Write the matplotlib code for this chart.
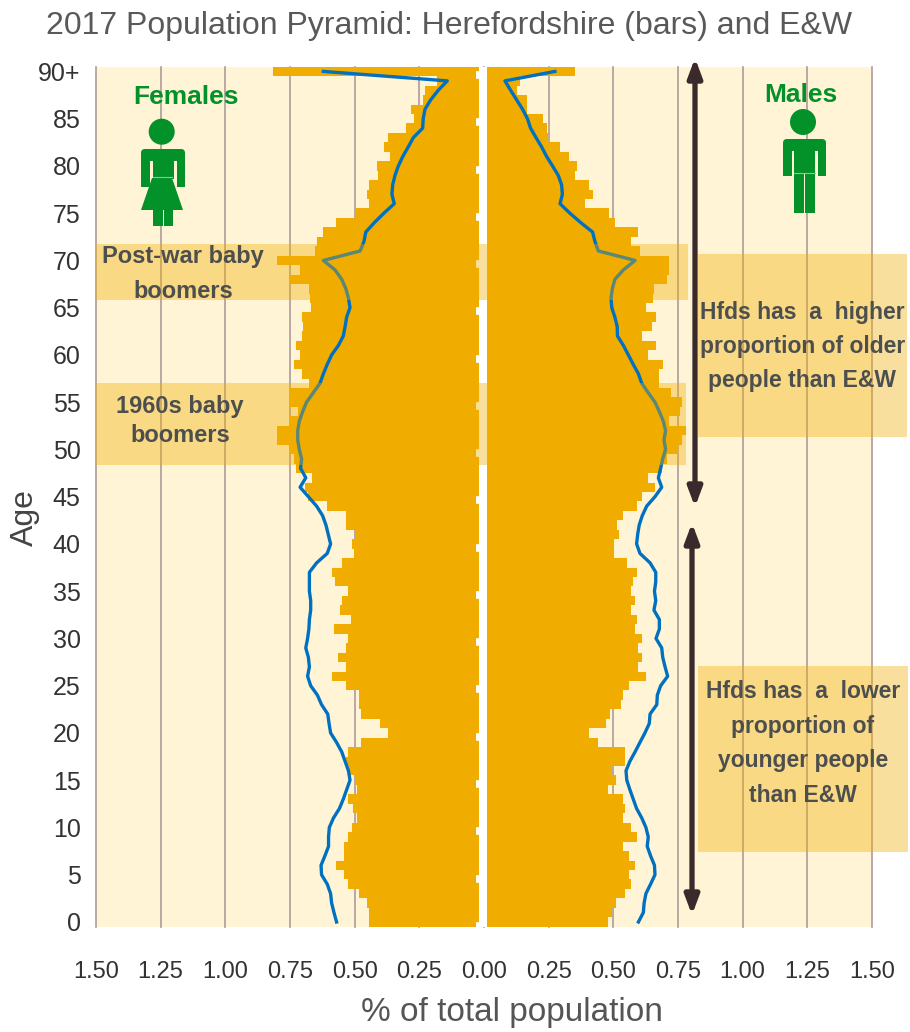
import matplotlib
matplotlib.use('Agg')
import matplotlib.pyplot as plt
import numpy as np
from matplotlib.patches import Circle, Polygon, Rectangle, FancyBboxPatch

# values, age 90+ first and going down to 0
ages = np.arange(90, -1, -1)

female_hfds = [.814, .183, .228, .235, .282, .27, .30, .372, .387, .363, .415, .408, .446, .454, .446,
               .499, .571, .624, .646, .653, .802, .711, .75, .677, .673, .669, .705, .698, .705, .727,
               .711, .733, .705, .675, .754, .754, .718, .754, .802, .802, .754, .733, .727, .666, .692,
               .679, .608, .535, .535, .499, .512, .503, .55, .586, .576, .527, .55, .557, .513, .579,
               .527, .535, .563, .534, .586, .534, .482, .482, .474, .402, .372, .474, .527, .534, .521,
               .497, .49, .527, .505, .49, .512, .527, .541, .541, .571, .541, .527, .482, .452, .446, .446]

male_hfds = [.352, .139, .129, .168, .168, .227, .242, .249, .294, .33, .361, .353, .405, .42, .39,
             .485, .508, .597, .567, .603, .716, .714, .709, .657, .655, .626, .664, .648, .612, .664,
             .635, .693, .678, .678, .722, .767, .758, .715, .781, .767, .745, .706, .69, .635, .661,
             .612, .59, .539, .515, .523, .503, .503, .554, .59, .575, .567, .584, .567, .59, .584,
             .612, .597, .612, .597, .626, .561, .539, .531, .487, .472, .405, .442, .545, .545, .494,
             .509, .479, .539, .545, .539, .567, .59, .539, .561, .582, .561, .567, .545, .509, .494, .479]

female_ew = [.621, .142, .177, .206, .228, .235, .237, .273, .293, .314, .331, .344, .353, .356, .347,
             .387, .424, .457, .464, .479, .621, .576, .55, .534, .524, .518, .531, .537, .544, .563,
             .589, .606, .621, .634, .66, .686, .701, .714, .72, .72, .714, .705, .709, .689, .711,
             .679, .647, .624, .611, .602, .593, .606, .647, .675, .675, .675, .67, .67, .675, .677,
             .682, .689, .679, .675, .682, .67, .644, .628, .604, .599, .593, .57, .55, .537, .524,
             .518, .531, .544, .559, .582, .598, .601, .601, .615, .63, .628, .606, .593, .589, .58, .57]

male_ew = [.274, .081, .103, .126, .149, .168, .18, .201, .223, .242, .265, .287, .30, .303, .294,
           .332, .374, .42, .429, .442, .584, .539, .506, .496, .491, .494, .506, .515, .516, .539,
           .558, .577, .597, .61, .635, .661, .678, .693, .702, .696, .702, .691, .683, .674, .687,
           .661, .629, .612, .60, .594, .59, .603, .642, .664, .664, .659, .664, .657, .678, .678,
           .665, .687, .691, .70, .71, .683, .67, .668, .642, .639, .622, .603, .584, .564, .549,
           .552, .564, .577, .59, .61, .626, .635, .631, .644, .659, .661, .644, .626, .619, .616, .597]

x_ticks = [-1.5, -1.25, -1.0, -0.75, -0.5, -0.25, 0, 0.25, 0.5, 0.75, 1.0, 1.25, 1.5]
y_ticks = list(range(0, 95, 5))
y_labels = [str(a) for a in range(0, 90, 5)] + ['90+']

orange = '#F0AD00'
blue = '#0070C0'
green = '#03912A'
grey_text = '#4D4F4F'
sans = ['Liberation Sans', 'DejaVu Sans']

fig = plt.figure(figsize=(9.1, 10.32), dpi=100)
W, H = 910, 1032
ax = fig.add_axes([96 / W, 1 - 926.7 / H, (872 - 96) / W, (926.7 - 66.7) / H])
ax.set_facecolor('#FFF5D6')
ax.set_xlim(-1.5, 1.5)
ax.set_ylim(-0.5, 90.5)

for t in x_ticks:
    ax.axvline(t, color='#AE9C9A', lw=1.2, zorder=1, clip_on=False)

ax.barh(ages, -np.array(female_hfds), height=1.0, color=orange, zorder=2)
ax.barh(ages, male_hfds, height=1.0, color=orange, zorder=2)
ax.axvspan(-0.0174, 0.0135, color='white', lw=0, zorder=3)
# little white ticks cut into the female side
ax.hlines(np.arange(0, 95, 5) - 0.4, -0.031, -0.017, color='white', lw=5.5, capstyle='butt', zorder=3)

ax.plot(-np.array(female_ew), ages, color=blue, lw=2.4, zorder=4, solid_joinstyle='round')
ax.plot(male_ew, ages, color=blue, lw=2.4, zorder=4, solid_joinstyle='round')

for s in ax.spines.values():
    s.set_visible(False)
ax.set_xticks(x_ticks)
ax.set_xticklabels(['%.2f' % abs(t) for t in x_ticks], fontsize=17, family=sans, color='#333333')
ax.set_yticks(y_ticks)
ax.set_yticklabels(y_labels, fontsize=18, family=sans, color='#333333')
ax.tick_params(axis='x', length=0, pad=25)
ax.tick_params(axis='y', length=0, pad=11)

# overlay in pixels for the bands, callouts, arrows and figures
ov = fig.add_axes([0, 0, 1, 1], zorder=5)
ov.set_xlim(0, W)
ov.set_ylim(H, 0)
ov.axis('off')
ov.patch.set_alpha(0)

a = 0.38
ov.add_patch(Rectangle((96, 244), 592, 56, color=orange, alpha=a, lw=0))
ov.add_patch(Rectangle((96, 383), 590, 82, color=orange, alpha=a, lw=0))
ov.add_patch(Polygon([(697, 218), (732, 254), (783, 254), (907, 254), (907, 437), (698, 437), (698, 254), (732, 254)],
                     color=orange, alpha=a, lw=0))
ov.add_patch(Polygon([(693, 627), (732, 666), (785, 666), (908, 666), (908, 852), (698, 852), (698, 666), (732, 666)],
                     color=orange, alpha=a, lw=0))

arrow_col = '#3A2A2C'
for x0, y0, y1 in [(695, 58, 507), (692, 523, 915)]:
    ov.annotate('', xy=(x0, y0), xytext=(x0, y1),
                arrowprops=dict(arrowstyle='<|-|>,head_length=0.8,head_width=0.3', color=arrow_col,
                                lw=3.8, shrinkA=0, shrinkB=0, mutation_scale=14))

# female figure
ov.add_patch(Circle((161.7, 131.7), 13, color=green, lw=0))
ov.add_patch(FancyBboxPatch((141, 149), 44, 12, boxstyle='round,pad=0,rounding_size=4', color=green, lw=0))
ov.add_patch(Rectangle((141, 153), 8.5, 34, color=green, lw=0))
ov.add_patch(Rectangle((176.5, 153), 8.5, 34, color=green, lw=0))
ov.add_patch(Rectangle((152.5, 149), 21, 30, color=green, lw=0))
ov.add_patch(Polygon([(152, 178), (172, 178), (183, 210), (141, 210)], color=green, lw=0))
ov.add_patch(Rectangle((153, 210), 9.5, 16, color=green, lw=0))
ov.add_patch(Rectangle((163.5, 210), 9.5, 16, color=green, lw=0))
ov.plot([153, 172], [177, 177], color='#8CC98A', lw=0.8)

# male figure
ov.add_patch(Circle((803, 122), 13, color=green, lw=0))
ov.add_patch(FancyBboxPatch((783, 139), 43, 12, boxstyle='round,pad=0,rounding_size=4', color=green, lw=0))
ov.add_patch(Rectangle((783, 143), 8.5, 33, color=green, lw=0))
ov.add_patch(Rectangle((817.5, 143), 8.5, 33, color=green, lw=0))
ov.add_patch(Rectangle((794, 139), 21, 35, color=green, lw=0))
ov.add_patch(Rectangle((794, 173), 10, 40, color=green, lw=0))
ov.add_patch(Rectangle((805, 173), 10, 40, color=green, lw=0))
ov.plot([794, 815], [172.5, 172.5], color='#8CC98A', lw=0.8)

bold = dict(family=sans, weight='bold', ha='center', va='center')
ov.text(186, 97, 'Females', fontsize=19, color=green, **bold)
ov.text(801, 95, 'Males', fontsize=19, color=green, **bold)
for x0, y0, s in [(183, 257, 'Post-war baby'), (183, 291, 'boomers'),
                  (180, 406, '1960s baby'), (180, 435, 'boomers')]:
    ov.text(x0, y0, s, fontsize=17, color=grey_text, **bold)
for x0, y0, s in [(802, 313, 'Hfds has  a  higher'), (803, 347, 'proportion of older'), (802, 381, 'people than E&W'),
                  (803, 692, 'Hfds has  a  lower'), (803, 727, 'proportion of'),
                  (803, 760, 'younger people'), (803, 795, 'than E&W')]:
    ov.text(x0, y0, s, fontsize=16.5, color=grey_text, **bold)

ov.text(449, 26, '2017 Population Pyramid: Herefordshire (bars) and E&W', fontsize=23,
        family=sans, color='#595959', ha='center', va='center')
ov.text(512, 1013, '% of total population', fontsize=24,
        family=sans, color='#555555', ha='center', va='center')
ov.text(25, 518, 'Age', fontsize=23, rotation=90,
        family=sans, color='#444444', ha='center', va='center')

fig.savefig('out.png', dpi=100)
